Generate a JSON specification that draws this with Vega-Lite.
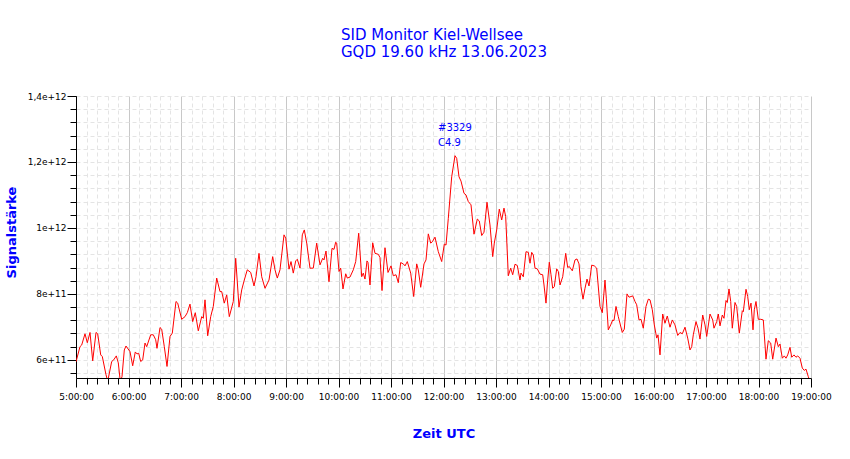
{
"width": 735, "height": 282,
"autosize": {"type": "none"},
"padding": {"left": 76, "top": 96, "right": 39, "bottom": 81},
"title": {"text": ["SID Monitor Kiel-Wellsee", "GQD 19.60 kHz 13.06.2023"], "anchor": "start", "frame": "group", "dx": 265, "offset": 32, "font": "DejaVu Sans", "fontSize": 15, "fontWeight": "normal", "color": "#0000ff", "lineHeight": 17},
"config": {"view": {"stroke": null}},
"resolve": {"axis": {"x": "independent", "y": "independent"}},
"layer": [
{
"data": {"values": [
{"t":"2023-06-13T05:00:00","v":5.94e11},{"t":"2023-06-13T05:04:34","v":6.40e11},{"t":"2023-06-13T05:06:31","v":6.45e11},{"t":"2023-06-13T05:10:17","v":6.79e11},{"t":"2023-06-13T05:12:55","v":6.52e11},{"t":"2023-06-13T05:16:00","v":6.83e11},{"t":"2023-06-13T05:19:05","v":5.97e11},{"t":"2023-06-13T05:22:52","v":6.83e11},{"t":"2023-06-13T05:24:48","v":6.79e11},{"t":"2023-06-13T05:28:14","v":6.15e11},
{"t":"2023-06-13T05:30:04","v":6.10e11},{"t":"2023-06-13T05:34:17","v":5.55e11},{"t":"2023-06-13T05:36:14","v":5.35e11},{"t":"2023-06-13T05:40:48","v":5.95e11},{"t":"2023-06-13T05:43:05","v":6.00e11},{"t":"2023-06-13T05:46:04","v":6.12e11},{"t":"2023-06-13T05:48:20","v":5.91e11},{"t":"2023-06-13T05:50:38","v":5.35e11},{"t":"2023-06-13T05:52:34","v":5.49e11},{"t":"2023-06-13T05:55:12","v":6.30e11},
{"t":"2023-06-13T05:57:08","v":6.42e11},{"t":"2023-06-13T06:01:43","v":6.25e11},{"t":"2023-06-13T06:04:48","v":5.82e11},{"t":"2023-06-13T06:07:46","v":6.24e11},{"t":"2023-06-13T06:09:43","v":6.18e11},{"t":"2023-06-13T06:11:40","v":6.20e11},{"t":"2023-06-13T06:13:56","v":5.95e11},{"t":"2023-06-13T06:16:14","v":6.00e11},{"t":"2023-06-13T06:18:52","v":6.51e11},{"t":"2023-06-13T06:20:48","v":6.40e11},
{"t":"2023-06-13T06:25:22","v":6.76e11},{"t":"2023-06-13T06:28:20","v":6.76e11},{"t":"2023-06-13T06:31:05","v":6.61e11},{"t":"2023-06-13T06:32:34","v":6.35e11},{"t":"2023-06-13T06:36:00","v":6.98e11},{"t":"2023-06-13T06:37:56","v":6.93e11},{"t":"2023-06-13T06:40:55","v":6.40e11},{"t":"2023-06-13T06:44:00","v":5.80e11},{"t":"2023-06-13T06:47:26","v":6.71e11},{"t":"2023-06-13T06:50:04","v":6.81e11},
{"t":"2023-06-13T06:54:17","v":7.77e11},{"t":"2023-06-13T06:56:14","v":7.72e11},{"t":"2023-06-13T07:00:48","v":7.23e11},{"t":"2023-06-13T07:04:34","v":7.31e11},{"t":"2023-06-13T07:07:12","v":7.43e11},{"t":"2023-06-13T07:10:17","v":7.69e11},{"t":"2023-06-13T07:13:22","v":7.16e11},{"t":"2023-06-13T07:16:20","v":7.43e11},{"t":"2023-06-13T07:19:46","v":6.88e11},{"t":"2023-06-13T07:23:40","v":7.31e11},
{"t":"2023-06-13T07:25:29","v":7.26e11},{"t":"2023-06-13T07:27:26","v":7.82e11},{"t":"2023-06-13T07:30:31","v":6.73e11},{"t":"2023-06-13T07:33:56","v":7.31e11},{"t":"2023-06-13T07:36:55","v":7.62e11},{"t":"2023-06-13T07:40:48","v":8.48e11},{"t":"2023-06-13T07:44:34","v":8.07e11},{"t":"2023-06-13T07:46:31","v":8.07e11},{"t":"2023-06-13T07:49:29","v":7.72e11},{"t":"2023-06-13T07:52:14","v":7.97e11},
{"t":"2023-06-13T07:55:12","v":7.31e11},{"t":"2023-06-13T07:59:46","v":7.77e11},{"t":"2023-06-13T08:02:31","v":9.08e11},{"t":"2023-06-13T08:06:17","v":7.60e11},{"t":"2023-06-13T08:09:22","v":8.12e11},{"t":"2023-06-13T08:12:20","v":8.42e11},{"t":"2023-06-13T08:15:46","v":8.73e11},{"t":"2023-06-13T08:19:40","v":8.65e11},{"t":"2023-06-13T08:23:26","v":8.24e11},{"t":"2023-06-13T08:25:43","v":8.52e11},
{"t":"2023-06-13T08:29:08","v":9.23e11},{"t":"2023-06-13T08:32:14","v":8.52e11},{"t":"2023-06-13T08:36:00","v":8.17e11},{"t":"2023-06-13T08:40:34","v":8.42e11},{"t":"2023-06-13T08:44:48","v":9.13e11},{"t":"2023-06-13T08:47:26","v":8.73e11},{"t":"2023-06-13T08:50:04","v":8.48e11},{"t":"2023-06-13T08:53:08","v":8.73e11},{"t":"2023-06-13T08:57:43","v":9.79e11},{"t":"2023-06-13T08:59:40","v":9.69e11},
{"t":"2023-06-13T09:03:26","v":8.75e11},{"t":"2023-06-13T09:05:43","v":8.98e11},{"t":"2023-06-13T09:08:20","v":8.63e11},{"t":"2023-06-13T09:11:05","v":9.00e11},{"t":"2023-06-13T09:12:55","v":9.05e11},{"t":"2023-06-13T09:16:00","v":8.78e11},{"t":"2023-06-13T09:18:38","v":9.79e11},{"t":"2023-06-13T09:20:55","v":9.94e11},{"t":"2023-06-13T09:23:40","v":9.54e11},{"t":"2023-06-13T09:27:26","v":8.78e11},
{"t":"2023-06-13T09:31:12","v":8.78e11},{"t":"2023-06-13T09:35:05","v":9.54e11},{"t":"2023-06-13T09:38:52","v":8.88e11},{"t":"2023-06-13T09:41:56","v":9.08e11},{"t":"2023-06-13T09:43:26","v":9.03e11},{"t":"2023-06-13T09:45:43","v":9.30e11},{"t":"2023-06-13T09:49:08","v":8.37e11},{"t":"2023-06-13T09:52:34","v":9.38e11},{"t":"2023-06-13T09:54:52","v":9.35e11},{"t":"2023-06-13T09:56:48","v":9.57e11},
{"t":"2023-06-13T09:57:56","v":9.54e11},{"t":"2023-06-13T10:00:34","v":8.68e11},{"t":"2023-06-13T10:02:31","v":8.78e11},{"t":"2023-06-13T10:05:08","v":8.15e11},{"t":"2023-06-13T10:08:14","v":8.61e11},{"t":"2023-06-13T10:10:04","v":8.48e11},{"t":"2023-06-13T10:13:08","v":8.51e11},{"t":"2023-06-13T10:16:55","v":8.73e11},{"t":"2023-06-13T10:19:40","v":8.98e11},{"t":"2023-06-13T10:23:05","v":9.84e11},
{"t":"2023-06-13T10:26:31","v":8.52e11},{"t":"2023-06-13T10:28:20","v":8.63e11},{"t":"2023-06-13T10:30:17","v":8.45e11},{"t":"2023-06-13T10:32:34","v":9.00e11},{"t":"2023-06-13T10:33:43","v":8.95e11},{"t":"2023-06-13T10:36:00","v":8.27e11},{"t":"2023-06-13T10:39:05","v":9.55e11},{"t":"2023-06-13T10:41:43","v":9.23e11},{"t":"2023-06-13T10:45:29","v":9.20e11},{"t":"2023-06-13T10:47:26","v":9.10e11},
{"t":"2023-06-13T10:49:43","v":8.10e11},{"t":"2023-06-13T10:53:08","v":9.40e11},{"t":"2023-06-13T10:56:34","v":8.65e11},{"t":"2023-06-13T11:00:00","v":8.85e11},{"t":"2023-06-13T11:02:38","v":8.55e11},{"t":"2023-06-13T11:05:43","v":8.58e11},{"t":"2023-06-13T11:08:20","v":8.34e11},{"t":"2023-06-13T11:11:05","v":8.95e11},{"t":"2023-06-13T11:14:04","v":8.91e11},{"t":"2023-06-13T11:16:00","v":8.85e11},
{"t":"2023-06-13T11:18:38","v":8.98e11},{"t":"2023-06-13T11:22:31","v":8.63e11},{"t":"2023-06-13T11:25:56","v":7.92e11},{"t":"2023-06-13T11:29:22","v":8.91e11},{"t":"2023-06-13T11:31:12","v":8.73e11},{"t":"2023-06-13T11:33:56","v":8.20e11},{"t":"2023-06-13T11:37:43","v":8.91e11},{"t":"2023-06-13T11:40:00","v":9.03e11},{"t":"2023-06-13T11:42:38","v":9.82e11},{"t":"2023-06-13T11:45:22","v":9.54e11},
{"t":"2023-06-13T11:47:12","v":9.58e11},{"t":"2023-06-13T11:50:17","v":9.72e11},{"t":"2023-06-13T11:54:04","v":9.28e11},{"t":"2023-06-13T11:57:56","v":8.98e11},{"t":"2023-06-13T12:00:55","v":9.51e11},{"t":"2023-06-13T12:02:52","v":9.48e11},{"t":"2023-06-13T12:05:29","v":10.29e11},{"t":"2023-06-13T12:09:22","v":11.55e11},{"t":"2023-06-13T12:13:08","v":12.19e11},{"t":"2023-06-13T12:15:05","v":12.11e11},
{"t":"2023-06-13T12:17:43","v":11.55e11},{"t":"2023-06-13T12:20:00","v":11.42e11},{"t":"2023-06-13T12:23:26","v":11.05e11},{"t":"2023-06-13T12:25:43","v":11.00e11},{"t":"2023-06-13T12:28:20","v":10.80e11},{"t":"2023-06-13T12:31:26","v":10.70e11},{"t":"2023-06-13T12:34:52","v":9.81e11},{"t":"2023-06-13T12:38:38","v":10.27e11},{"t":"2023-06-13T12:40:55","v":10.21e11},{"t":"2023-06-13T12:43:40","v":9.77e11},
{"t":"2023-06-13T12:46:17","v":9.87e11},{"t":"2023-06-13T12:49:43","v":10.78e11},{"t":"2023-06-13T12:53:08","v":10.09e11},{"t":"2023-06-13T12:56:14","v":9.13e11},{"t":"2023-06-13T12:58:04","v":9.54e11},{"t":"2023-06-13T13:00:48","v":9.94e11},{"t":"2023-06-13T13:03:46","v":10.57e11},{"t":"2023-06-13T13:06:31","v":10.24e11},{"t":"2023-06-13T13:09:08","v":10.60e11},{"t":"2023-06-13T13:11:05","v":10.34e11},
{"t":"2023-06-13T13:14:04","v":8.55e11},{"t":"2023-06-13T13:16:48","v":8.78e11},{"t":"2023-06-13T13:19:05","v":8.58e11},{"t":"2023-06-13T13:21:43","v":8.90e11},{"t":"2023-06-13T13:24:20","v":8.86e11},{"t":"2023-06-13T13:27:26","v":8.42e11},{"t":"2023-06-13T13:28:34","v":8.63e11},{"t":"2023-06-13T13:31:12","v":8.52e11},{"t":"2023-06-13T13:34:17","v":9.28e11},{"t":"2023-06-13T13:36:55","v":9.26e11},
{"t":"2023-06-13T13:38:52","v":8.93e11},{"t":"2023-06-13T13:40:48","v":9.26e11},{"t":"2023-06-13T13:42:38","v":9.18e11},{"t":"2023-06-13T13:44:34","v":8.78e11},{"t":"2023-06-13T13:47:12","v":8.76e11},{"t":"2023-06-13T13:50:17","v":8.60e11},{"t":"2023-06-13T13:53:22","v":8.58e11},{"t":"2023-06-13T13:54:52","v":8.27e11},{"t":"2023-06-13T13:57:08","v":7.72e11},{"t":"2023-06-13T13:58:38","v":8.27e11},
{"t":"2023-06-13T14:00:55","v":8.96e11},{"t":"2023-06-13T14:02:52","v":8.58e11},{"t":"2023-06-13T14:04:48","v":8.17e11},{"t":"2023-06-13T14:06:38","v":8.22e11},{"t":"2023-06-13T14:09:22","v":8.76e11},{"t":"2023-06-13T14:11:12","v":8.68e11},{"t":"2023-06-13T14:13:08","v":8.27e11},{"t":"2023-06-13T14:16:14","v":8.52e11},{"t":"2023-06-13T14:19:40","v":9.23e11},{"t":"2023-06-13T14:21:56","v":8.80e11},
{"t":"2023-06-13T14:23:46","v":8.83e11},{"t":"2023-06-13T14:27:12","v":8.70e11},{"t":"2023-06-13T14:30:17","v":9.03e11},{"t":"2023-06-13T14:32:34","v":9.06e11},{"t":"2023-06-13T14:34:52","v":8.91e11},{"t":"2023-06-13T14:37:08","v":8.22e11},{"t":"2023-06-13T14:39:26","v":7.84e11},{"t":"2023-06-13T14:41:43","v":8.17e11},{"t":"2023-06-13T14:44:00","v":8.45e11},{"t":"2023-06-13T14:46:17","v":8.24e11},
{"t":"2023-06-13T14:49:22","v":8.87e11},{"t":"2023-06-13T14:52:20","v":8.85e11},{"t":"2023-06-13T14:55:05","v":8.78e11},{"t":"2023-06-13T14:58:52","v":7.62e11},{"t":"2023-06-13T15:01:29","v":7.43e11},{"t":"2023-06-13T15:04:34","v":8.42e11},{"t":"2023-06-13T15:06:04","v":7.87e11},{"t":"2023-06-13T15:08:20","v":6.91e11},{"t":"2023-06-13T15:11:05","v":7.06e11},{"t":"2023-06-13T15:13:22","v":7.21e11},
{"t":"2023-06-13T15:14:52","v":7.19e11},{"t":"2023-06-13T15:17:08","v":7.62e11},{"t":"2023-06-13T15:19:46","v":7.31e11},{"t":"2023-06-13T15:24:20","v":6.83e11},{"t":"2023-06-13T15:26:38","v":6.93e11},{"t":"2023-06-13T15:29:43","v":8.00e11},{"t":"2023-06-13T15:32:00","v":7.90e11},{"t":"2023-06-13T15:34:17","v":7.92e11},{"t":"2023-06-13T15:36:14","v":7.94e11},{"t":"2023-06-13T15:38:52","v":7.77e11},
{"t":"2023-06-13T15:40:48","v":7.67e11},{"t":"2023-06-13T15:43:26","v":7.21e11},{"t":"2023-06-13T15:45:43","v":7.23e11},{"t":"2023-06-13T15:48:20","v":6.96e11},{"t":"2023-06-13T15:51:26","v":7.62e11},{"t":"2023-06-13T15:54:04","v":7.84e11},{"t":"2023-06-13T15:56:00","v":7.82e11},{"t":"2023-06-13T15:58:38","v":7.52e11},{"t":"2023-06-13T16:00:55","v":7.06e11},{"t":"2023-06-13T16:03:40","v":6.66e11},
{"t":"2023-06-13T16:05:08","v":6.76e11},{"t":"2023-06-13T16:07:26","v":6.15e11},{"t":"2023-06-13T16:10:31","v":7.39e11},{"t":"2023-06-13T16:13:08","v":7.11e11},{"t":"2023-06-13T16:15:46","v":7.33e11},{"t":"2023-06-13T16:18:52","v":6.99e11},{"t":"2023-06-13T16:21:29","v":7.21e11},{"t":"2023-06-13T16:24:34","v":7.06e11},{"t":"2023-06-13T16:27:40","v":6.74e11},{"t":"2023-06-13T16:30:17","v":6.83e11},
{"t":"2023-06-13T16:32:55","v":6.79e11},{"t":"2023-06-13T16:36:00","v":6.99e11},{"t":"2023-06-13T16:39:05","v":6.66e11},{"t":"2023-06-13T16:41:43","v":6.30e11},{"t":"2023-06-13T16:43:40","v":6.40e11},{"t":"2023-06-13T16:45:29","v":6.76e11},{"t":"2023-06-13T16:48:34","v":7.16e11},{"t":"2023-06-13T16:50:52","v":6.96e11},{"t":"2023-06-13T16:53:08","v":6.63e11},{"t":"2023-06-13T16:56:14","v":7.36e11},
{"t":"2023-06-13T16:58:52","v":7.06e11},{"t":"2023-06-13T17:00:48","v":6.71e11},{"t":"2023-06-13T17:04:34","v":7.39e11},{"t":"2023-06-13T17:07:40","v":7.21e11},{"t":"2023-06-13T17:09:08","v":6.96e11},{"t":"2023-06-13T17:12:14","v":7.16e11},{"t":"2023-06-13T17:14:04","v":7.39e11},{"t":"2023-06-13T17:16:00","v":7.03e11},{"t":"2023-06-13T17:18:38","v":7.36e11},{"t":"2023-06-13T17:20:34","v":7.26e11},
{"t":"2023-06-13T17:22:52","v":7.80e11},{"t":"2023-06-13T17:24:20","v":7.74e11},{"t":"2023-06-13T17:26:17","v":8.15e11},{"t":"2023-06-13T17:28:14","v":7.77e11},{"t":"2023-06-13T17:30:04","v":6.96e11},{"t":"2023-06-13T17:33:08","v":7.74e11},{"t":"2023-06-13T17:35:05","v":7.62e11},{"t":"2023-06-13T17:38:04","v":6.81e11},{"t":"2023-06-13T17:41:29","v":7.49e11},{"t":"2023-06-13T17:42:38","v":7.46e11},
{"t":"2023-06-13T17:45:43","v":8.14e11},{"t":"2023-06-13T17:47:40","v":7.92e11},{"t":"2023-06-13T17:49:29","v":7.52e11},{"t":"2023-06-13T17:51:26","v":7.72e11},{"t":"2023-06-13T17:53:43","v":6.91e11},{"t":"2023-06-13T17:55:12","v":7.52e11},{"t":"2023-06-13T17:57:08","v":7.77e11},{"t":"2023-06-13T17:59:46","v":7.23e11},{"t":"2023-06-13T18:02:31","v":7.23e11},{"t":"2023-06-13T18:05:29","v":7.21e11},
{"t":"2023-06-13T18:08:34","v":6.02e11},{"t":"2023-06-13T18:11:12","v":6.58e11},{"t":"2023-06-13T18:13:56","v":6.51e11},{"t":"2023-06-13T18:16:14","v":6.02e11},{"t":"2023-06-13T18:20:00","v":6.66e11},{"t":"2023-06-13T18:22:38","v":6.40e11},{"t":"2023-06-13T18:24:34","v":6.48e11},{"t":"2023-06-13T18:27:12","v":6.05e11},{"t":"2023-06-13T18:29:29","v":6.12e11},{"t":"2023-06-13T18:31:26","v":6.05e11},
{"t":"2023-06-13T18:33:22","v":6.15e11},{"t":"2023-06-13T18:36:00","v":6.38e11},{"t":"2023-06-13T18:37:56","v":6.08e11},{"t":"2023-06-13T18:40:34","v":6.15e11},{"t":"2023-06-13T18:42:52","v":6.08e11},{"t":"2023-06-13T18:44:48","v":6.12e11},{"t":"2023-06-13T18:47:26","v":6.05e11},{"t":"2023-06-13T18:50:04","v":5.75e11},{"t":"2023-06-13T18:52:20","v":5.68e11},{"t":"2023-06-13T18:54:17","v":5.72e11},
{"t":"2023-06-13T18:56:55","v":5.49e11},{"t":"2023-06-13T18:58:52","v":5.33e11}
]},
"mark": {"type": "line", "color": "#ff0000", "strokeWidth": 1, "clip": true},
"encoding": {
"x": {"field": "t", "type": "temporal",
"scale": {"domain": [{"year":2023,"month":6,"date":13,"hours":5},{"year":2023,"month":6,"date":13,"hours":19}], "nice": false},
"axis": {"orient": "bottom", "title": null, "labels": false, "domain": false, "tickSize": 6, "tickColor": "#000000", "grid": true, "gridColor": "#e4e4e4", "gridDash": [4, 3],
"values": [
{"year":2023,"month":6,"date":13,"hours":5,"minutes":12},{"year":2023,"month":6,"date":13,"hours":5,"minutes":24},{"year":2023,"month":6,"date":13,"hours":5,"minutes":36},{"year":2023,"month":6,"date":13,"hours":5,"minutes":48},
{"year":2023,"month":6,"date":13,"hours":6,"minutes":12},{"year":2023,"month":6,"date":13,"hours":6,"minutes":24},{"year":2023,"month":6,"date":13,"hours":6,"minutes":36},{"year":2023,"month":6,"date":13,"hours":6,"minutes":48},
{"year":2023,"month":6,"date":13,"hours":7,"minutes":12},{"year":2023,"month":6,"date":13,"hours":7,"minutes":24},{"year":2023,"month":6,"date":13,"hours":7,"minutes":36},{"year":2023,"month":6,"date":13,"hours":7,"minutes":48},
{"year":2023,"month":6,"date":13,"hours":8,"minutes":12},{"year":2023,"month":6,"date":13,"hours":8,"minutes":24},{"year":2023,"month":6,"date":13,"hours":8,"minutes":36},{"year":2023,"month":6,"date":13,"hours":8,"minutes":48},
{"year":2023,"month":6,"date":13,"hours":9,"minutes":12},{"year":2023,"month":6,"date":13,"hours":9,"minutes":24},{"year":2023,"month":6,"date":13,"hours":9,"minutes":36},{"year":2023,"month":6,"date":13,"hours":9,"minutes":48},
{"year":2023,"month":6,"date":13,"hours":10,"minutes":12},{"year":2023,"month":6,"date":13,"hours":10,"minutes":24},{"year":2023,"month":6,"date":13,"hours":10,"minutes":36},{"year":2023,"month":6,"date":13,"hours":10,"minutes":48},
{"year":2023,"month":6,"date":13,"hours":11,"minutes":12},{"year":2023,"month":6,"date":13,"hours":11,"minutes":24},{"year":2023,"month":6,"date":13,"hours":11,"minutes":36},{"year":2023,"month":6,"date":13,"hours":11,"minutes":48},
{"year":2023,"month":6,"date":13,"hours":12,"minutes":12},{"year":2023,"month":6,"date":13,"hours":12,"minutes":24},{"year":2023,"month":6,"date":13,"hours":12,"minutes":36},{"year":2023,"month":6,"date":13,"hours":12,"minutes":48},
{"year":2023,"month":6,"date":13,"hours":13,"minutes":12},{"year":2023,"month":6,"date":13,"hours":13,"minutes":24},{"year":2023,"month":6,"date":13,"hours":13,"minutes":36},{"year":2023,"month":6,"date":13,"hours":13,"minutes":48},
{"year":2023,"month":6,"date":13,"hours":14,"minutes":12},{"year":2023,"month":6,"date":13,"hours":14,"minutes":24},{"year":2023,"month":6,"date":13,"hours":14,"minutes":36},{"year":2023,"month":6,"date":13,"hours":14,"minutes":48},
{"year":2023,"month":6,"date":13,"hours":15,"minutes":12},{"year":2023,"month":6,"date":13,"hours":15,"minutes":24},{"year":2023,"month":6,"date":13,"hours":15,"minutes":36},{"year":2023,"month":6,"date":13,"hours":15,"minutes":48},
{"year":2023,"month":6,"date":13,"hours":16,"minutes":12},{"year":2023,"month":6,"date":13,"hours":16,"minutes":24},{"year":2023,"month":6,"date":13,"hours":16,"minutes":36},{"year":2023,"month":6,"date":13,"hours":16,"minutes":48},
{"year":2023,"month":6,"date":13,"hours":17,"minutes":12},{"year":2023,"month":6,"date":13,"hours":17,"minutes":24},{"year":2023,"month":6,"date":13,"hours":17,"minutes":36},{"year":2023,"month":6,"date":13,"hours":17,"minutes":48},
{"year":2023,"month":6,"date":13,"hours":18,"minutes":12},{"year":2023,"month":6,"date":13,"hours":18,"minutes":24},{"year":2023,"month":6,"date":13,"hours":18,"minutes":36},{"year":2023,"month":6,"date":13,"hours":18,"minutes":48}
]}},
"y": {"field": "v", "type": "quantitative",
"scale": {"domain": [5.45e11, 1.4e12], "nice": false, "zero": false},
"axis": {"orient": "left", "title": null, "labels": false, "domain": false, "tickSize": 6, "tickColor": "#000000", "grid": true, "gridColor": "#e4e4e4", "gridDash": [4, 3],
"values": [5.6e11, 6.0e11, 6.4e11, 6.8e11, 7.2e11, 7.6e11, 8.0e11, 8.4e11, 8.8e11, 9.2e11, 9.6e11, 1.0e12, 1.04e12, 1.08e12, 1.12e12, 1.16e12, 1.2e12, 1.24e12, 1.28e12, 1.32e12, 1.36e12, 1.4e12]}}
}
},
{
"data": {"values": [{"t":"2023-06-13T11:53:43","v":1.294e12,"label":"#3329"},{"t":"2023-06-13T11:53:43","v":1.2485e12,"label":"C4.9"}]},
"mark": {"type": "text", "align": "left", "baseline": "alphabetic", "font": "DejaVu Sans", "fontSize": 10, "color": "#0000ff"},
"encoding": {
"x": {"field": "t", "type": "temporal",
"scale": {"domain": [{"year":2023,"month":6,"date":13,"hours":5},{"year":2023,"month":6,"date":13,"hours":19}], "nice": false},
"axis": {"orient": "bottom", "title": "Zeit UTC", "titleFont": "DejaVu Sans", "titleFontSize": 13, "titleFontWeight": "bold", "titleColor": "#0000ff", "titleY": 59, "titleBaseline": "alphabetic",
"format": "%-H:%M:%S", "labelFont": "DejaVu Sans", "labelFontSize": 9, "labelColor": "#000000", "labelPadding": 5, "labelOverlap": false, "labelFlush": false, "labelBound": false,
"domainColor": "#000000", "tickColor": "#000000", "tickSize": 9, "grid": true, "gridColor": "#c8c8c8",
"values": [{"year":2023,"month":6,"date":13,"hours":5},{"year":2023,"month":6,"date":13,"hours":6},{"year":2023,"month":6,"date":13,"hours":7},{"year":2023,"month":6,"date":13,"hours":8},{"year":2023,"month":6,"date":13,"hours":9},{"year":2023,"month":6,"date":13,"hours":10},{"year":2023,"month":6,"date":13,"hours":11},{"year":2023,"month":6,"date":13,"hours":12},{"year":2023,"month":6,"date":13,"hours":13},{"year":2023,"month":6,"date":13,"hours":14},{"year":2023,"month":6,"date":13,"hours":15},{"year":2023,"month":6,"date":13,"hours":16},{"year":2023,"month":6,"date":13,"hours":17},{"year":2023,"month":6,"date":13,"hours":18},{"year":2023,"month":6,"date":13,"hours":19}]}},
"y": {"field": "v", "type": "quantitative",
"scale": {"domain": [5.45e11, 1.4e12], "nice": false, "zero": false},
"axis": {"orient": "left", "title": "Signalstärke", "titleFont": "DejaVu Sans", "titleFontSize": 13, "titleFontWeight": "bold", "titleColor": "#0000ff", "titleX": -58, "titleY": 136, "titleAlign": "center", "titleBaseline": "bottom",
"format": "~e", "labelExpr": "datum.value > 1.3e12 ? '1,4e+12' : (datum.value > 1.1e12 ? '1,2e+12' : datum.label)",
"labelFont": "DejaVu Sans", "labelFontSize": 9, "labelColor": "#000000", "labelPadding": 1, "labelOverlap": false, "labelFlush": false, "labelBound": false,
"domainColor": "#000000", "tickColor": "#000000", "tickSize": 9, "grid": false,
"values": [6.0e11, 8.0e11, 1.0e12, 1.2e12, 1.4e12]}},
"text": {"field": "label"}
}
}
]
}
